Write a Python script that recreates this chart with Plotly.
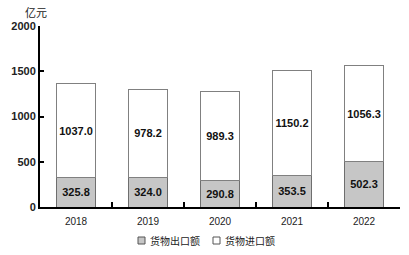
import plotly.graph_objects as go

years = ["2018", "2019", "2020", "2021", "2022"]
exports = [325.8, 324.0, 290.8, 353.5, 502.3]
imports = [1037.0, 978.2, 989.3, 1150.2, 1056.3]
y_ticks = [0, 500, 1000, 1500, 2000]
series_names = ["货物出口额", "货物进口额"]
series_fill = ["#c6c6c6", "#ffffff"]
series_edge = ["#6e6e6e", "#808080"]

font_main = "Liberation Sans, Arial, sans-serif"
fig = go.Figure()
for vals, name, fill, edge in zip([exports, imports], series_names, series_fill, series_edge):
    fig.add_bar(x=years, y=vals, name=name,
                marker=dict(color=fill, line=dict(color=edge, width=1)),
                text=[f"{v:.1f}" for v in vals], textposition="inside",
                insidetextanchor="middle", textangle=0, constraintext="none",
                textfont=dict(family=font_main, size=11, color="#111", weight="bold"),
                showlegend=False)

# manual compact legend (pixel -> paper conversion for plot area 360x181)
def px(x):
    return (x - 40) / 360

def py(y):
    return (207 - y) / 181

shapes = []
annotations = []
for i, (name, fill) in enumerate(zip(series_names, series_fill)):
    x0 = 138 + i * 75
    shapes.append(dict(type="rect", xref="paper", yref="paper",
                       x0=px(x0), x1=px(x0 + 7), y0=py(244), y1=py(237),
                       fillcolor=fill, line=dict(color="#555", width=1)))
    annotations.append(dict(text=name, xref="paper", yref="paper",
                            x=px(x0 + 10), y=py(240.5), xanchor="left", yanchor="middle",
                            showarrow=False,
                            font=dict(family="Noto Sans CJK SC", size=10, color="#222")))
annotations.append(dict(text="亿元", x=px(36), xref="paper", y=1.0, yref="paper",
                        xanchor="center", yanchor="bottom", showarrow=False,
                        font=dict(family="Noto Sans CJK SC", size=11, color="#222"),
                        yshift=4))

fig.update_layout(
    barmode="stack", bargap=0.47,
    width=409, height=255,
    margin=dict(l=40, r=9, t=26, b=48, autoexpand=False),
    paper_bgcolor="white", plot_bgcolor="white",
    showlegend=False,
    uniformtext=dict(mode="show", minsize=8),
    shapes=shapes,
    annotations=annotations,
)
fig.update_xaxes(showline=True, linecolor="black", linewidth=2,
                 ticks="inside", tickson="boundaries", ticklen=5, tickwidth=2,
                 tickcolor="black", showgrid=False, automargin=False,
                 ticklabelstandoff=4,
                 tickfont=dict(family=font_main, size=10, color="#222"))
fig.update_yaxes(range=[0, 2000], tickvals=y_ticks, showline=True, linecolor="black",
                 linewidth=2, ticks="inside", ticklen=4, tickwidth=2, tickcolor="black",
                 showgrid=False, zeroline=False, automargin=False,
                 tickfont=dict(family=font_main, size=11, color="#222", weight="bold"))

fig.write_html("out.html")
